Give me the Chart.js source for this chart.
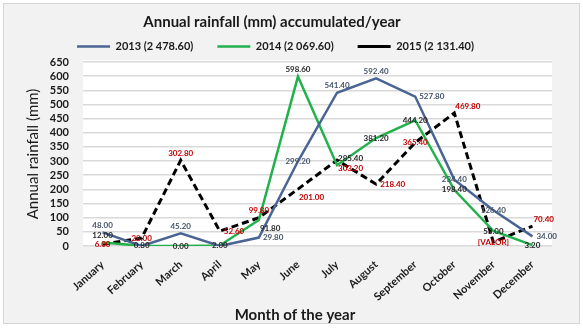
<!DOCTYPE html>
<html>
<head>
<meta charset="utf-8">
<script src="https://cdn.jsdelivr.net/npm/chart.js@4.4.1/dist/chart.umd.min.js"></script>
<style>
  html, body { margin: 0; padding: 0; background: #fff; }
  canvas { display: block; }
</style>
</head>
<body>
<canvas id="graficoLluvia" width="583" height="328"></canvas>
<script>
const months = ["January", "February", "March", "April", "May", "June", "July",
  "August", "September", "October", "November", "December"];
const rain2013 = [48.00, 0, 45.20, 0, 29.80, 299.20, 541.40, 592.40, 527.80, 234.40, 126.40, 34.00];
const rain2014 = [12.00, 0.80, 0.00, 2.00, 91.80, 598.60, 285.40, 381.20, 444.20, 198.40, 53.00, 3.20];
const rain2015 = [6.00, 28.00, 302.80, 52.60, 99.80, 201.00, 303.20, 218.40, 365.40, 469.80, 14.00, 70.40];
const seriesNames = ["2013 (2 478.60)", "2014 (2 069.60)", "2015 (2 131.40)"];
const yMax = 650;
const yStep = 50;

// where each value label sits next to its point (a=above, b=below, r=right, c=on it)
const place2013 = ["a", null, "a", null, "r", "c", "a", "a", "r", "c", "c", "r"];
const place2014 = ["a", "c", "c", "c", "br", "a", "ar", "c", "c", "c", "c", "c"];
const place2015 = ["c", "c", "a", "r", "a", "br", "br", "r", "c", "ar", "c", "ar"];
const text2015 = [null, null, null, null, null, null, null, null, null, null, "[VALOR]", null];

const FONT = "Lato, 'Open Sans', sans-serif";
const INK = "#1a1a1a";

// fondo gris, borde y area blanca del grafico
const fondo = {
  id: "fondo",
  beforeDraw(chart) {
    const { ctx, chartArea: a } = chart;
    ctx.save();
    ctx.fillStyle = "#ffffff";
    ctx.fillRect(0, 0, chart.width, chart.height);
    ctx.fillStyle = "#f2f2f2";
    ctx.strokeStyle = "#d4d4d4";
    ctx.lineWidth = 1;
    ctx.fillRect(3.5, 3.5, chart.width - 7, chart.height - 8);
    ctx.strokeRect(3.5, 3.5, chart.width - 7, chart.height - 8);
    ctx.fillStyle = "#ffffff";
    ctx.fillRect(a.left, a.top - 2, a.right - a.left, a.bottom - a.top + 2);
    ctx.restore();
  }
};

// centrar titulo y leyenda como en el original
const centrado = {
  id: "centrado",
  afterLayout(chart) {
    chart.titleBlock.left = 8;
    chart.titleBlock.right = 536;
    chart.legend.left = 8;
    chart.legend.right = 543;
  }
};

const etiquetas = {
  id: "etiquetas",
  afterDatasetsDraw(chart) {
    const ctx = chart.ctx;
    ctx.save();
    ctx.font = "bold 8px " + FONT;
    chart.data.datasets.forEach((ds, di) => {
      const meta = chart.getDatasetMeta(di);
      meta.data.forEach((pt, i) => {
        const p = ds.labelPlace[i];
        if (!p) return;
        const txt = (ds.labelText && ds.labelText[i]) || ds.data[i].toFixed(2);
        let x = pt.x, y = pt.y;
        ctx.textAlign = "center";
        ctx.textBaseline = "middle";
        if (p.includes("a")) y -= 7;
        if (p.includes("b")) y += 8;
        if (p === "r") { ctx.textAlign = "left"; x += 4; }
        else if (p.length === 2 && p[1] === "r") { ctx.textAlign = "left"; x += 1; }
        ctx.fillStyle = ds.labelColor;
        ctx.fillText(txt, x, y);
      });
    });
    ctx.restore();
  }
};

const tituloX = {
  id: "tituloX",
  afterDraw(chart) {
    const ctx = chart.ctx;
    ctx.save();
    ctx.font = "bold 15px " + FONT;
    ctx.fillStyle = INK;
    ctx.textAlign = "center";
    ctx.textBaseline = "middle";
    ctx.fillText("Month of the year", 295, 315);
    ctx.restore();
  }
};

const ctx = document.getElementById("graficoLluvia").getContext("2d");
new Chart(ctx, {
  type: "line",
  data: {
    labels: months,
    datasets: [
      {
        label: seriesNames[0],
        data: rain2013,
        borderColor: "#4a6593",
        backgroundColor: "#4a6593",
        borderWidth: 2.5,
        pointRadius: 0,
        tension: 0,
        labelPlace: place2013,
        labelColor: "#44546a"
      },
      {
        label: seriesNames[1],
        data: rain2014,
        borderColor: "#22b14c",
        backgroundColor: "#22b14c",
        borderWidth: 2.5,
        pointRadius: 0,
        tension: 0,
        labelPlace: place2014,
        labelColor: "#262626"
      },
      {
        label: seriesNames[2],
        data: rain2015,
        borderColor: "#000000",
        backgroundColor: "#000000",
        borderWidth: 3,
        borderDash: [7, 4],
        pointRadius: 0,
        tension: 0,
        labelPlace: place2015,
        labelText: text2015,
        labelColor: "#c00000"
      }
    ]
  },
  options: {
    responsive: false,
    animation: false,
    layout: { padding: { top: 4, left: 8, right: 31, bottom: 0 } },
    plugins: {
      title: {
        display: true,
        text: "Annual rainfall (mm) accumulated/year",
        color: INK,
        font: { family: FONT, size: 15, weight: "bold" },
        padding: { top: 9, bottom: -14 }
      },
      legend: {
        position: "top",
        labels: {
          usePointStyle: true,
          pointStyle: "line",
          pointStyleWidth: 33,
          padding: 24,
          color: INK,
          font: { family: FONT, size: 11, weight: "bold" }
        }
      },
      tooltip: { enabled: false }
    },
    scales: {
      x: {
        offset: true,
        grid: { display: false },
        border: { display: false },
        ticks: {
          minRotation: 42,
          maxRotation: 42,
          padding: 4,
          color: INK,
          font: { family: FONT, size: 11, weight: "bold" }
        },
        afterFit(scale) { scale.height = 82; }
      },
      y: {
        min: 0,
        max: yMax,
        grid: { color: "#d9d9d9", lineWidth: 1.5, drawTicks: false },
        border: { display: false },
        ticks: {
          stepSize: yStep,
          autoSkip: false,
          padding: 14,
          color: INK,
          font: { family: FONT, size: 11, weight: "bold" }
        },
        title: {
          display: true,
          text: "Annual rainfall (mm)",
          color: INK,
          font: { family: FONT, size: 15 },
          padding: { top: 16, bottom: 0 }
        },
        afterFit(scale) { scale.width = 75; }
      }
    }
  },
  plugins: [fondo, centrado, etiquetas, tituloX]
});
</script>
</body>
</html>
